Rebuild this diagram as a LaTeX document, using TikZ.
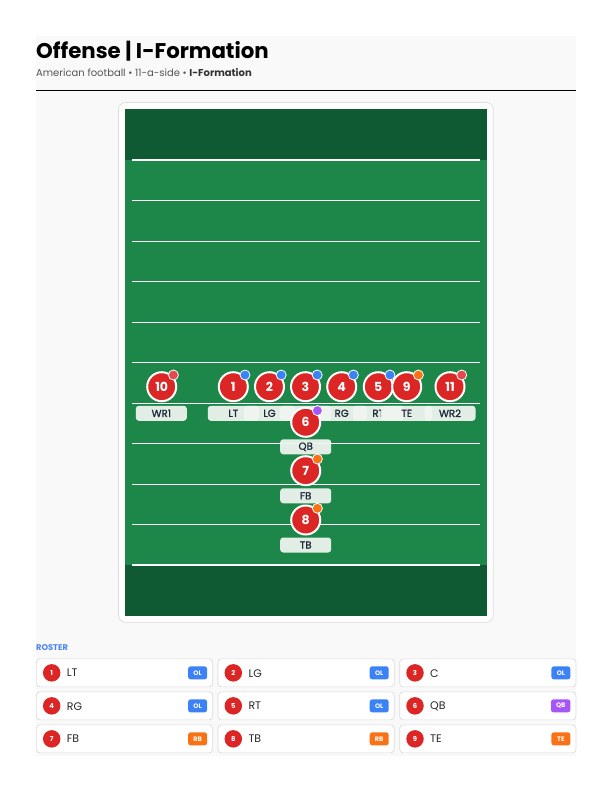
\documentclass[tikz,border=0pt]{standalone}
\usepackage{fontspec}
\setmainfont{Poppins}
\newfontfamily\popmed[FakeBold=1.2]{Poppins}
\definecolor{panelbg}{HTML}{F9F9F9}
\definecolor{darkgreen}{HTML}{0F5A32}
\definecolor{fieldgreen}{HTML}{1D874A}
\definecolor{pred}{HTML}{DC2626}
\definecolor{wrred}{HTML}{E5484D}
\definecolor{olblue}{HTML}{3B82F6}
\definecolor{qbpurple}{HTML}{A855F7}
\definecolor{rborange}{HTML}{F97316}
\definecolor{labelbg}{HTML}{F1F5F2}
\definecolor{labeltext}{HTML}{1F2937}
\definecolor{cardborder}{HTML}{DCDCDC}
\definecolor{subgray}{HTML}{555555}
\definecolor{rostblue}{HTML}{4A85F6}
\tikzset{
  playerdot/.style={circle, fill=pred, draw=white, line width=2pt, minimum size=29pt, inner sep=0pt,
    text=white, font=\bfseries\fontsize{12.5}{12.5}\selectfont},
  roledot/.style={circle, fill=#1, draw=white, line width=0.8pt, minimum size=10pt, inner sep=0pt},
  poslabel/.style={rectangle, rounded corners=3pt, fill=labelbg, fill opacity=0.93, text opacity=1,
    minimum width=51pt, minimum height=15pt, inner sep=0pt, text=labeltext, font=\popmed\fontsize{10.2}{10}\selectfont},
  yardline/.style={draw=white, line width=0.9pt},
  goalline/.style={draw=white, line width=2pt},
  card/.style={draw=cardborder, line width=0.7pt, fill=white, rounded corners=3.5pt},
  rostnum/.style={circle, fill=pred, minimum size=17.5pt, inner sep=0pt, text=white, font=\bfseries\fontsize{6.8}{6.8}\selectfont},
  rostname/.style={anchor=west, inner sep=0pt, text=black!85, font=\fontsize{11}{11}\selectfont},
  rosttag/.style={anchor=east, fill=#1, rounded corners=2.5pt, minimum height=13pt, minimum width=19pt, inner xsep=5pt, inner ysep=0pt,
    text=white, font=\bfseries\fontsize{6.5}{6.5}\selectfont}
}
\newcommand\playercirc[5]{%
  \node[playerdot] (p#1) at (#2,#3) {#4};
  \node[roledot=#5] (d#1) at ($(p#1)+(11.7,-11.7)$) {};
}
\newcommand\playerlab[4]{%
  \node[poslabel] (l#1) at (#2,#3) {#4};
}
\newcommand\rosteritem[7]{%
  \node[card, minimum width=176.3pt, minimum height=28pt, anchor=north west, inner sep=0pt] (rc#3) at (#1,#2) {};
  \node[rostnum] (rn#3) at ($(rc#3.west)+(15.7,0)$) {#3};
  \node[rostname] (rl#3) at ($(rc#3.west)+(30.7,0.3)$) {#4};
  \node[rosttag=#6] (rt#3) at ($(rc#3.east)+(-5.7,0)$) {#5};
}
\usetikzlibrary{calc}
\begin{document}
\begin{tikzpicture}[x=1pt,y=-1pt]
\useasboundingbox (0,0) rectangle (612,792);
% panel
\fill[panelbg] (36,36) rectangle (576,756);
% header
\node[anchor=base west, inner sep=0pt, font=\bfseries\fontsize{21.3}{24}\selectfont] (title) at (36,58.3) {Offense | I-Formation};
\node[anchor=base west, inner sep=0pt, font=\fontsize{10}{11}\selectfont, text=subgray] (subtitle) at (36,77)
  {American football • 11-a-side • \textbf{\color{black!80}I-Formation}};
\draw[black, line width=0.9pt] (36,90.5) -- (576,90.5);
% field card
\draw[card, rounded corners=7pt] (118.5,102.5) rectangle (493.3,622.3);
\fill[darkgreen] (125,109.3) rectangle (486.7,616);
\fill[fieldgreen] (125,160) rectangle (486.7,565);
% yard lines
\draw[goalline] (132,160) -- (480,160);
\foreach \k in {1,2,3,4,6,7,8,9} {
  \draw[yardline] (132,160+40.5*\k) -- (480,160+40.5*\k);
}
\draw[white, line width=1.7pt] (132,362.5) -- (480,362.5);
\draw[goalline] (132,565) -- (480,565);
% front row
\playercirc{10}{161.7}{386.7}{10}{wrred}
\playerlab{10}{161.3}{413.3}{WR1}
\playercirc{1}{233.3}{386.7}{1}{olblue}
\playerlab{1}{233.3}{413.3}{LT}
\playercirc{2}{269.5}{386.7}{2}{olblue}
\playerlab{2}{269.5}{413.3}{LG}
\playercirc{3}{305.5}{386.7}{3}{olblue}
\playerlab{3}{305.5}{413.3}{C}
\playercirc{4}{341.7}{386.7}{4}{olblue}
\playerlab{4}{341.7}{413.3}{RG}
\playercirc{5}{378.3}{386.7}{5}{olblue}
\playerlab{5}{378.3}{413.3}{RT}
\playercirc{9}{406.7}{386.7}{9}{rborange}
\playerlab{9}{406.7}{413.3}{TE}
\playercirc{11}{450}{386.7}{11}{wrred}
\playerlab{11}{450}{413.3}{WR2}
% backfield
\playercirc{6}{305.7}{422.3}{6}{qbpurple}
\playerlab{6}{305.7}{446.8}{QB}
\playercirc{7}{305.7}{470.7}{7}{rborange}
\playerlab{7}{305.7}{495.8}{FB}
\playercirc{8}{305.7}{520}{8}{rborange}
\playerlab{8}{305.7}{545}{TB}
% roster
\node[anchor=base west, inner sep=0pt, text=rostblue, font=\bfseries\fontsize{8.3}{9}\selectfont] (rosterhead) at (36,650) {ROSTER};
\rosteritem{36}{658.5}{1}{LT}{OL}{olblue}{}
\rosteritem{217.6}{658.5}{2}{LG}{OL}{olblue}{}
\rosteritem{399.3}{658.5}{3}{C}{OL}{olblue}{}
\rosteritem{36}{691.5}{4}{RG}{OL}{olblue}{}
\rosteritem{217.6}{691.5}{5}{RT}{OL}{olblue}{}
\rosteritem{399.3}{691.5}{6}{QB}{QB}{qbpurple}{}
\rosteritem{36}{724.5}{7}{FB}{RB}{rborange}{}
\rosteritem{217.6}{724.5}{8}{TB}{RB}{rborange}{}
\rosteritem{399.3}{724.5}{9}{TE}{TE}{rborange}{}
\end{tikzpicture}
\end{document}
